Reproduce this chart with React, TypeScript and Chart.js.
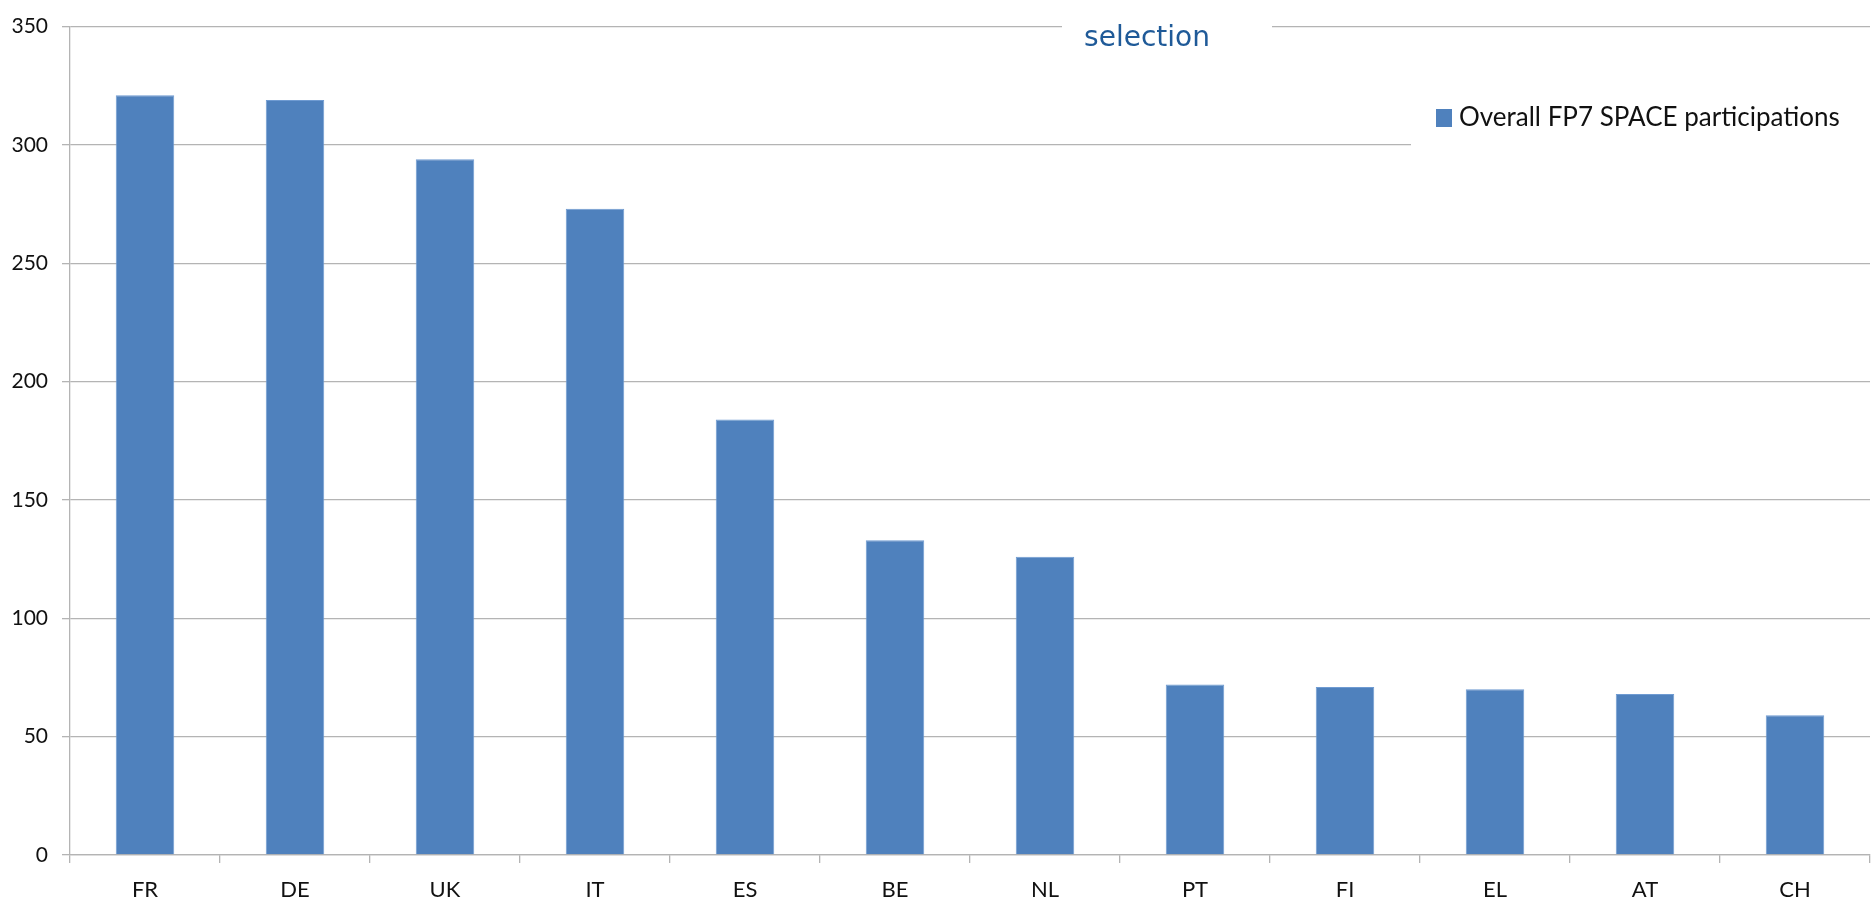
import React, { useEffect, useRef } from 'react';
import { Chart, registerables } from 'chart.js';

Chart.register(...registerables);

const categories = ['FR', 'DE', 'UK', 'IT', 'ES', 'BE', 'NL', 'PT', 'FI', 'EL', 'AT', 'CH'];
const participations = [321, 319, 294, 273, 184, 133, 126, 72, 71, 70, 68, 59];
const yTickValues = [0, 50, 100, 150, 200, 250, 300, 350];
const seriesLabel = 'Overall FP7 SPACE participations';
const titleText = 'selection';

const W = 1876;
const H = 906;
const GRID = '#b4b4b4';
const BAR = '#4f81bd';

const overlayPlugin = {
  id: 'overlay',
  beforeDatasetsDraw(chart: any) {
    const { ctx, chartArea } = chart;
    const y350 = chart.scales.y.getPixelForValue(350);
    const y300 = chart.scales.y.getPixelForValue(300);
    ctx.save();
    ctx.fillStyle = '#ffffff';
    // title box over the top gridline
    ctx.fillRect(chartArea.left + 992, y350 - 15, 210, 40);
    // legend box over the 300 gridline
    ctx.fillRect(chartArea.left + 1341, y300 - 40, chartArea.right - chartArea.left, 50);
    ctx.restore();
  },
  afterDraw(chart: any) {
    const { ctx, chartArea } = chart;
    ctx.save();
    // title
    ctx.fillStyle = '#1f5a98';
    ctx.font = '28px "DejaVu Sans"';
    ctx.textAlign = 'center';
    ctx.textBaseline = 'middle';
    ctx.fillText(titleText, chartArea.left + 1077, 39);
    // legend
    const ds = chart.data.datasets[0];
    const ly = 118;
    const lx = chartArea.left + 1366;
    ctx.fillStyle = ds.backgroundColor;
    ctx.fillRect(lx, ly - 9, 16, 18);
    ctx.fillStyle = '#111111';
    ctx.font = '26px Lato';
    ctx.textAlign = 'left';
    ctx.fillText(ds.label, lx + 23, ly);
    ctx.restore();
  },
};

export default function App() {
  const ref = useRef<HTMLCanvasElement | null>(null);

  useEffect(() => {
    document.body.style.margin = '0';
    const canvas = ref.current;
    if (!canvas) return;
    const chart = new Chart(canvas, {
      type: 'bar',
      data: {
        labels: categories,
        datasets: [
          {
            label: seriesLabel,
            data: participations,
            backgroundColor: BAR,
            borderColor: '#6f9bd2',
            borderWidth: 1,
            barPercentage: 0.39,
            categoryPercentage: 1,
          },
        ],
      },
      options: {
        animation: false,
        responsive: false,
        devicePixelRatio: 1,
        layout: { padding: { top: 20, right: 6, left: 0, bottom: 0 } },
        plugins: {
          legend: { display: false },
          title: { display: false },
          tooltip: { enabled: false },
        },
        scales: {
          x: {
            offset: true,
            grid: {
              offset: true,
              drawOnChartArea: false,
              drawTicks: true,
              tickLength: 8,
              color: GRID,
              lineWidth: 1.3,
            },
            border: { display: true, color: GRID, width: 1.3 },
            ticks: {
              color: '#111111',
              font: { family: 'Lato', size: 22 },
              padding: 14,
              maxRotation: 0,
              autoSkip: false,
            },
            afterFit: (s: any) => {
              s.height = 51;
            },
          },
          y: {
            min: 0,
            max: 350,
            afterBuildTicks: (s: any) => {
              s.ticks = yTickValues.map((v) => ({ value: v }));
            },
            grid: {
              drawOnChartArea: true,
              drawTicks: true,
              tickLength: 8,
              color: GRID,
              lineWidth: 1.3,
            },
            border: { display: true, color: GRID, width: 1.3 },
            ticks: {
              color: '#111111',
              font: { family: 'Lato', size: 21 },
              padding: 14,
            },
            afterFit: (s: any) => {
              s.width = 70;
            },
          },
        },
      },
      plugins: [overlayPlugin],
    });
    return () => chart.destroy();
  }, []);

  return (
    <div style={{ width: W, height: H, background: '#ffffff' }}>
      <canvas ref={ref} width={W} height={H} style={{ display: 'block', width: W, height: H }} />
    </div>
  );
}
